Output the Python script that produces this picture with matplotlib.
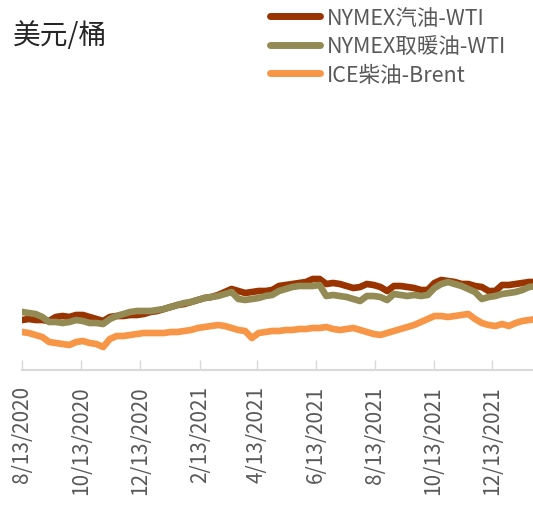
import matplotlib
matplotlib.use("Agg")
import matplotlib.pyplot as plt
import pandas as pd

plt.rcParams['font.family'] = ['Noto Sans CJK SC', 'DejaVu Sans']

# weekly samples, USD/bbl
dates = pd.date_range("2020-08-13", periods=77, freq="7D")

gasoline_wti = [50, 51, 50, 50, 49, 53, 54, 53, 55, 55, 53, 51, 49, 53, 54, 54, 55, 55, 56, 58,
                59, 61, 63, 65, 66, 68, 70, 72, 73, 75, 78, 81, 79, 77, 78, 79, 79, 80, 84, 85,
                86, 87, 88, 91, 91, 86, 87, 86, 84, 82, 83, 86, 85, 83, 79, 84, 84, 83, 82, 80,
                80, 87, 90, 89, 88, 86, 86, 84, 83, 79, 79, 85, 85, 86, 87, 88, 88]
heating_oil_wti = [58, 57, 56, 53, 48, 48, 47, 48, 50, 49, 47, 47, 46, 51, 54, 56, 58, 59, 59, 59,
                   60, 61, 63, 65, 67, 68, 70, 72, 73, 74, 76, 78, 71, 70, 71, 72, 74, 75, 79, 81,
                   83, 84, 84, 84, 85, 74, 75, 74, 73, 71, 69, 74, 74, 73, 70, 76, 75, 74, 75, 74,
                   75, 82, 86, 88, 86, 84, 81, 78, 71, 73, 74, 76, 77, 78, 80, 83, 84]
gasoil_brent = [38, 37, 35, 33, 28, 27, 26, 25, 28, 29, 27, 26, 23, 31, 34, 34, 35, 36, 37, 37,
                37, 37, 38, 38, 39, 40, 42, 43, 44, 45, 44, 42, 40, 39, 32, 37, 38, 39, 39, 40,
                40, 41, 41, 42, 42, 43, 41, 40, 41, 42, 40, 38, 36, 35, 37, 39, 41, 43, 45, 48,
                51, 54, 54, 53, 54, 55, 56, 51, 47, 45, 44, 46, 44, 47, 49, 50, 51]

series_names = ["NYMEX汽油-WTI", "NYMEX取暖油-WTI", "ICE柴油-Brent"]
series_colors = ["#993300", "#948A54", "#F79646"]

tick_labels = ["8/13/2020", "10/13/2020", "12/13/2020", "2/13/2021", "4/13/2021",
               "6/13/2021", "8/13/2021", "10/13/2021", "12/13/2021"]
tick_dates = pd.to_datetime(tick_labels, format="%m/%d/%Y")

fig = plt.figure(figsize=(5.33, 5.06), dpi=100)
ax = fig.add_axes([22 / 533, 1 - 371 / 506, 1 - 22 / 533, 371 / 506])

for values, name, color in zip([gasoline_wti, heating_oil_wti, gasoil_brent], series_names, series_colors):
    ax.plot(dates, values, color=color, linewidth=4.8, label=name,
            solid_capstyle='round', solid_joinstyle='round')

ax.set_ylim(0, 371)
ax.set_xlim(pd.Timestamp("2020-08-13"), pd.Timestamp("2022-01-24"))

ax.set_xticks(tick_dates)
ax.set_xticklabels(tick_labels, rotation=90, fontsize=15, color='#595959')
ax.tick_params(axis='x', direction='in', length=7, width=1, color='#D9D9D9', pad=11)
ax.set_yticks([])
for side in ['top', 'right', 'left']:
    ax.spines[side].set_visible(False)
ax.spines['bottom'].set_color('#D9D9D9')
ax.spines['bottom'].set_linewidth(1.5)

fig.text(13 / 533, 1 - 36 / 506, "美元/桶", fontsize=20, color='#262626', va='center', ha='left')

leg = ax.legend(loc='upper left', bbox_to_anchor=(270 / 533, 0.985), bbox_transform=fig.transFigure,
                frameon=False, fontsize=15.5, handlelength=2.3, handletextpad=0.35,
                labelspacing=0.3, borderpad=0, borderaxespad=0)
for text in leg.get_texts():
    text.set_color('#595959')
for line in leg.get_lines():
    line.set_linewidth(5)
    line.set_solid_capstyle('round')

fig.savefig("out.png", dpi=100)
